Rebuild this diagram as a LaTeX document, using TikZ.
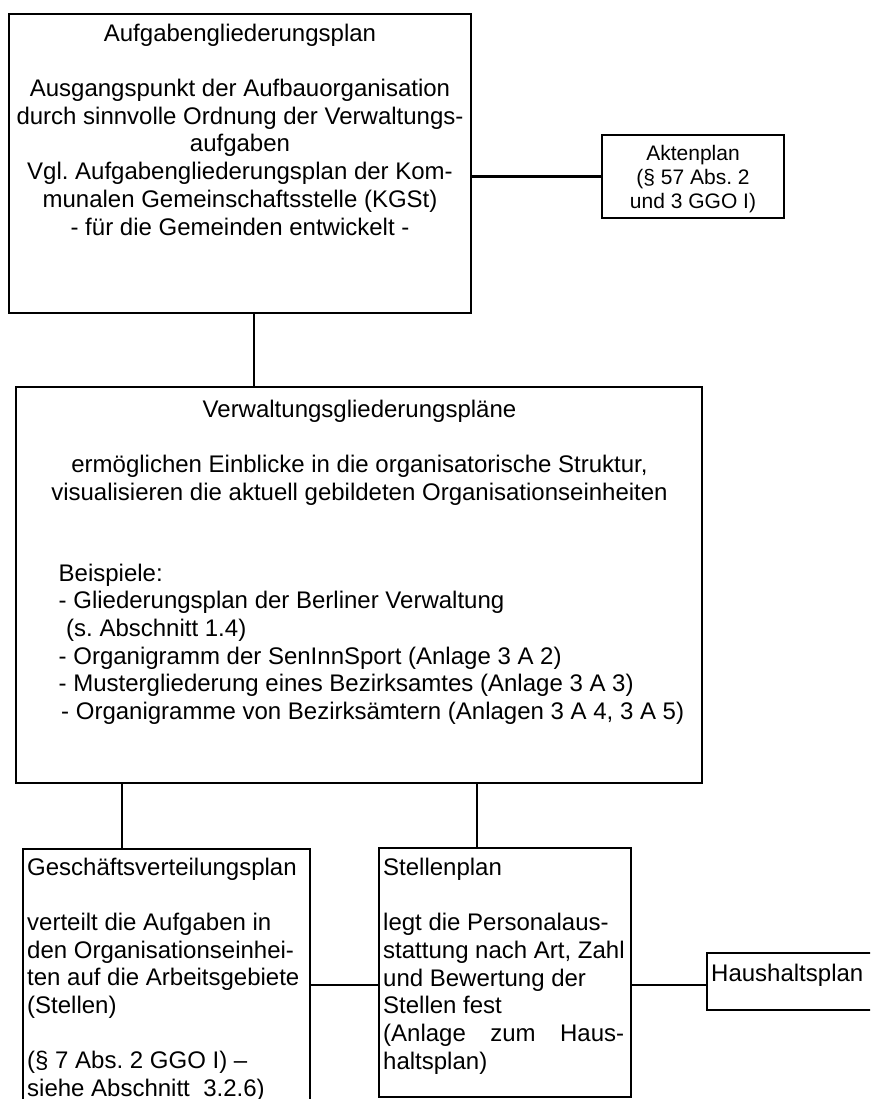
\documentclass[tikz,border=0pt]{standalone}
\usepackage{fontspec}
\setmainfont{Liberation Sans}
\frenchspacing
\begin{document}
\begin{tikzpicture}[x=1pt,y=-1pt,
  box/.style={draw=black, line width=2.8pt, inner sep=0pt},
  link/.style={draw=black, line width=2.3pt},
  txt/.style={inner sep=0pt, font=\fontsize{24}{27.7}\selectfont\frenchspacing},
  smalltxt/.style={inner sep=0pt, font=\fontsize{21}{24}\selectfont\frenchspacing}]
\clip (0,0) rectangle (870,1099);
% boxes
\node[box, minimum width=462pt, minimum height=299pt] (b1) at (240,163.5) {};
\node[box, minimum width=182pt, minimum height=83pt] (ak) at (693,176.5) {};
\node[box, minimum width=686pt, minimum height=396pt] (b2) at (359,585) {};
\node[box, minimum width=287pt, minimum height=266pt] (b3) at (166.5,982) {};
\node[box, minimum width=252pt, minimum height=249pt] (b4) at (505,972.5) {};
\node[box, minimum width=178pt, minimum height=57pt] (hh) at (796,981.5) {};
% junction coordinates
\coordinate (j1) at (254,0);
\coordinate (j2) at (122,0);
\coordinate (j3) at (477,0);
\coordinate (j4) at (0,985);
% connectors
\draw[link] (b1.south -| j1) -- (b2.north -| j1);
\draw[link] (b1.east |- ak.west) -- (ak.west);
\draw[link] (b2.south -| j2) -- (b3.north -| j2);
\draw[link] (b2.south -| j3) -- (b4.north -| j3);
\draw[link] (b3.east |- j4) -- (b4.west |- j4);
\draw[link] (b4.east |- j4) -- (hh.west |- j4);
% texts
\node[txt, anchor=north, align=center] (t1) at (240,21.6) {\strut Aufgabengliederungsplan\\[27.7pt]
Ausgangspunkt der Aufbauorganisation\\
durch sinnvolle Ordnung der Verwaltungs-\\
aufgaben\\
Vgl. Aufgabengliederungsplan der Kom-\\
munalen Gemeinschaftsstelle (KGSt)\\
- für die Gemeinden entwickelt -};
\node[smalltxt, anchor=north, align=center] (tak) at (693,143.2) {\strut Aktenplan\\
(§ 57 Abs. 2\\
und 3 GGO I)};
\node[txt, anchor=north, align=center] (t2) at (359.5,397.6) {\strut Verwaltungsgliederungspläne\\[27.7pt]
ermöglichen Einblicke in die organisatorische Struktur,\\
visualisieren die aktuell gebildeten Organisationseinheiten};
\node[txt, anchor=north west, align=left] (t2b) at (58.5,561.6) {\strut Beispiele:\\
- Gliederungsplan der Berliner Verwaltung\\
\hspace{7.5pt}(s. Abschnitt 1.4)\\
- Organigramm der SenInnSport (Anlage 3 A 2)\\
- Mustergliederung eines Bezirksamtes (Anlage 3 A 3)\\
\hspace{2.5pt}- Organigramme von Bezirksämtern (Anlagen 3 A 4, 3 A 5)};
\node[txt, anchor=north west, align=left] (t3) at (27,855.4) {\strut Geschäftsverteilungsplan\\[27.7pt]
verteilt die Aufgaben in\\
den Organisationseinhei-\\
ten auf die Arbeitsgebiete\\
(Stellen)\\[27.7pt]
(§ 7 Abs. 2 GGO I) –\\
siehe Abschnitt\ \ 3.2.6)};
\node[txt, anchor=north west, align=left] (t4) at (383,855.6) {\strut Stellenplan\\[27.7pt]
legt die Personalaus-\\
stattung nach Art, Zahl\\
und Bewertung der\\
Stellen fest\\
\hbox to 241pt{(Anlage\hfill zum\hfill Haus-}\\
haltsplan)};
\node[txt, anchor=north west, align=left] (t5) at (711,961.6) {\strut Haushaltsplan};
\end{tikzpicture}
\end{document}
